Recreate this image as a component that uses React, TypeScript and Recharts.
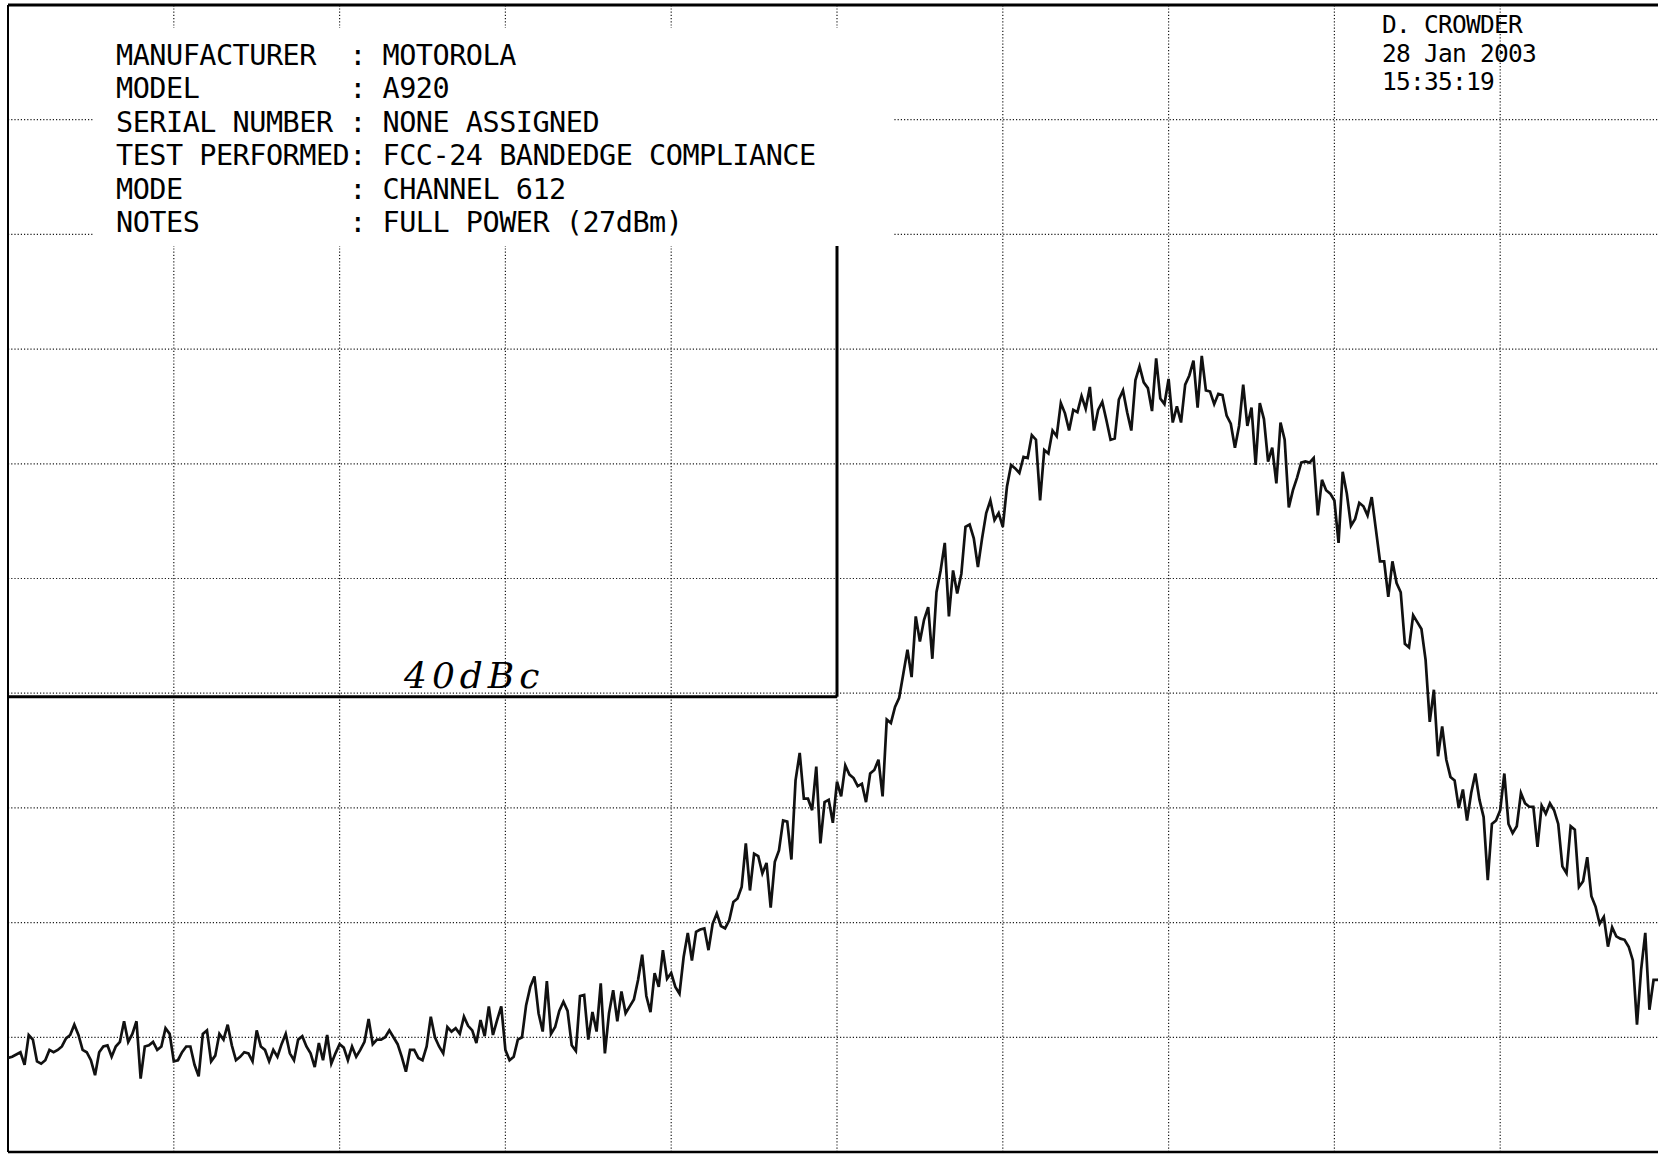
import React from 'react';
import { LineChart, Line, XAxis, YAxis, ReferenceLine } from 'recharts';

// Sweep settings: 10 MHz span, 1 MHz/div, band edge at centre.
const F_START = 1845;
const F_STOP = 1855;
const BAND_EDGE = 1850;
const REF_TOP = 0;
const REF_BOTTOM = -100;
const LIMIT_DB = -60.3;
const LIMIT_TOP_DB = -21;

const X_TICKS = [1845, 1846, 1847, 1848, 1849, 1850, 1851, 1852, 1853, 1854, 1855];
const Y_TICKS = [0, -10, -20, -30, -40, -50, -60, -70, -80, -90, -100];

// Trace levels (dB), 401 sweep points from F_START to F_STOP.
const TRACE_DB = [
  -91.8, -91.7, -91.5, -91.3, -92.4, -89.8, -90.2, -92.1, -92.3, -92.0, -91.1, -91.3, -91.1, -90.8, -90.1, -89.8, -88.9, -89.8, -91.1, -91.3,
  -92.0, -93.3, -91.3, -90.8, -90.7, -91.7, -90.8, -90.4, -88.6, -90.4, -89.7, -88.6, -93.6, -90.8, -90.7, -90.4, -91.1, -90.8, -89.2, -89.7,
  -92.1, -92.0, -91.3, -90.8, -90.8, -92.4, -93.4, -89.7, -89.4, -92.1, -91.6, -89.7, -90.2, -88.9, -90.7, -92.0, -91.7, -91.3, -91.4, -92.1,
  -89.4, -90.8, -91.1, -92.1, -91.1, -91.7, -90.6, -89.7, -91.4, -92.0, -90.2, -89.9, -90.8, -91.4, -92.6, -90.5, -92.0, -89.8, -92.3, -91.4,
  -90.6, -90.9, -92.0, -90.8, -91.7, -91.1, -90.4, -88.4, -90.6, -90.2, -90.2, -90.0, -89.4, -90.0, -90.6, -91.7, -93.0, -91.1, -91.1, -91.8,
  -92.0, -90.8, -88.2, -90.0, -90.8, -91.4, -89.1, -89.5, -89.2, -89.7, -88.2, -89.0, -89.4, -90.5, -88.5, -89.9, -87.3, -89.8, -88.5, -87.3,
  -91.1, -92.0, -91.7, -90.2, -90.0, -87.2, -85.6, -84.7, -87.9, -89.5, -85.1, -89.7, -89.1, -87.7, -86.9, -87.7, -90.7, -91.2, -86.4, -86.3,
  -90.2, -87.8, -89.5, -85.3, -91.4, -87.9, -85.9, -88.6, -86.0, -87.9, -87.3, -86.7, -85.0, -82.8, -86.4, -87.8, -84.4, -85.6, -82.4, -84.9,
  -84.4, -85.6, -86.2, -83.0, -80.9, -83.3, -80.8, -80.6, -80.5, -82.4, -80.1, -79.2, -80.3, -80.5, -79.8, -78.2, -77.9, -76.9, -73.1, -77.2,
  -74.0, -74.2, -75.7, -74.8, -78.7, -74.7, -73.7, -71.1, -71.2, -74.5, -67.6, -65.2, -69.2, -69.2, -70.2, -66.4, -73.1, -69.5, -69.3, -71.3,
  -67.7, -69.0, -66.3, -67.1, -67.4, -68.1, -67.9, -69.5, -67.0, -66.7, -65.8, -69.0, -62.3, -62.6, -61.2, -60.4, -58.3, -56.2, -58.6, -53.3,
  -55.5, -53.6, -52.5, -57.0, -51.2, -49.3, -46.9, -53.3, -49.3, -51.3, -49.6, -45.5, -45.3, -46.5, -49.0, -46.5, -44.3, -43.2, -44.9, -44.3,
  -45.5, -42.0, -40.1, -40.4, -40.8, -39.4, -39.5, -37.5, -37.9, -43.2, -38.8, -39.1, -37.1, -37.6, -34.7, -35.6, -37.1, -35.3, -35.5, -34.1,
  -35.2, -33.3, -37.1, -35.3, -34.6, -36.2, -37.9, -37.8, -34.4, -33.6, -35.5, -37.1, -32.7, -31.5, -32.9, -33.4, -35.4, -30.8, -34.3, -34.8,
  -32.6, -36.4, -35.0, -36.4, -33.1, -32.3, -31.0, -35.1, -30.6, -33.6, -33.7, -34.8, -33.9, -34.0, -35.8, -36.5, -38.6, -36.7, -33.1, -36.7,
  -35.1, -40.1, -34.7, -36.1, -39.8, -38.6, -41.7, -36.4, -37.9, -43.8, -42.3, -41.2, -39.9, -39.8, -39.9, -39.5, -44.5, -41.4, -42.3, -42.6,
  -43.2, -46.9, -40.7, -42.6, -45.4, -44.8, -43.4, -43.7, -44.5, -42.9, -45.7, -48.5, -48.5, -51.6, -48.5, -50.4, -51.2, -55.7, -56.0, -53.2,
  -53.8, -54.4, -57.1, -62.5, -59.7, -65.5, -62.9, -65.8, -67.3, -67.6, -70.0, -68.4, -71.1, -68.7, -67.0, -69.3, -70.8, -76.3, -71.4, -71.1,
  -70.2, -67.0, -71.4, -72.2, -71.6, -68.7, -69.6, -69.9, -69.9, -73.4, -69.8, -70.5, -69.6, -70.2, -71.4, -75.1, -75.7, -71.6, -71.9, -76.9,
  -76.4, -74.3, -77.7, -78.6, -80.1, -79.5, -82.1, -80.4, -81.2, -81.4, -81.5, -82.1, -83.3, -88.9, -84.1, -80.9, -87.6, -85.0, -85.0, -84.8, -85.2,
];

const HEADER_LABELS = ['MANUFACTURER', 'MODEL', 'SERIAL NUMBER', 'TEST PERFORMED', 'MODE', 'NOTES'];
const HEADER_VALUES = ['MOTOROLA', 'A920', 'NONE ASSIGNED', 'FCC-24 BANDEDGE COMPLIANCE', 'CHANNEL 612', 'FULL POWER (27dBm)'];
const STAMP_LINES = ['D. CROWDER', '28 Jan 2003', '15:35:19'];
const LIMIT_NOTE = '40dBc';

const data = TRACE_DB.map((db, i) => ({
  f: F_START + (i * (F_STOP - F_START)) / (TRACE_DB.length - 1),
  db,
}));

const MONO = '"DejaVu Sans Mono", "Liberation Mono", monospace';
const GRID = { stroke: '#1c1c1c', strokeWidth: 1.2, strokeDasharray: '1.2 2' };

function Annotations() {
  return (
    <svg
      width={1658}
      height={1154}
      style={{ position: 'absolute', left: 0, top: 0, pointerEvents: 'none' }}
    >
      {/* header block blanks the graticule behind it */}
      <rect x={93} y={28} width={800} height={218} fill="#fff" />
      {HEADER_LABELS.map((label, i) => (
        <text
          key={label}
          x={116}
          y={65 + i * 33.4}
          fontFamily={MONO}
          fontSize={28.5}
          letterSpacing={-0.5}
          fill="#000"
          xmlSpace="preserve"
          style={{ whiteSpace: 'pre' }}
        >
          {label.padEnd(14, ' ') + ': ' + HEADER_VALUES[i]}
        </text>
      ))}
      {STAMP_LINES.map((line, i) => (
        <text
          key={line}
          x={1382}
          y={33 + i * 28.6}
          fontFamily={MONO}
          fontSize={24.5}
          letterSpacing={-0.75}
          fill="#000"
          xmlSpace="preserve"
          style={{ whiteSpace: 'pre' }}
        >
          {line}
        </text>
      ))}
      <text
        x={404}
        y={688}
        fontFamily='"DejaVu Serif", "Liberation Serif", serif'
        fontStyle="italic"
        fontSize={36}
        letterSpacing={5}
        fill="#000"
      >
        {LIMIT_NOTE}
      </text>
    </svg>
  );
}

export default function App() {
  return (
    <div
      style={{
        position: 'absolute',
        left: 0,
        top: 0,
        width: 1658,
        height: 1154,
        overflow: 'hidden',
        background: '#fff',
      }}
    >
      <LineChart width={1674} height={1154} data={data} margin={{ top: 5, right: 8, bottom: 2, left: 8 }}>
        <XAxis
          dataKey="f"
          type="number"
          domain={[F_START, F_STOP]}
          ticks={X_TICKS}
          height={0}
          tick={false}
          tickLine={false}
          axisLine={false}
          allowDataOverflow
        />
        <YAxis
          type="number"
          domain={[REF_BOTTOM, REF_TOP]}
          ticks={Y_TICKS}
          width={0}
          tick={false}
          tickLine={false}
          axisLine={false}
          allowDataOverflow
        />
        {/* dotted graticule, one line per division */}
        {X_TICKS.map((t) => (
          <ReferenceLine key={`gx${t}`} x={t} {...GRID} />
        ))}
        {Y_TICKS.map((t) => (
          <ReferenceLine key={`gy${t}`} y={t} {...GRID} />
        ))}
        {/* solid frame */}
        <ReferenceLine y={REF_TOP} stroke="#000" strokeWidth={3} />
        <ReferenceLine y={REF_BOTTOM} stroke="#000" strokeWidth={2.5} />
        <ReferenceLine x={F_START} stroke="#000" strokeWidth={2} />
        {/* limit mask */}
        <ReferenceLine
          segment={[{ x: F_START, y: LIMIT_DB }, { x: BAND_EDGE, y: LIMIT_DB }]}
          stroke="#000"
          strokeWidth={3}
        />
        <ReferenceLine
          segment={[{ x: BAND_EDGE, y: LIMIT_DB }, { x: BAND_EDGE, y: LIMIT_TOP_DB }]}
          stroke="#000"
          strokeWidth={3}
        />
        <Line
          dataKey="db"
          type="linear"
          stroke="#111"
          strokeWidth={2.7}
          strokeLinejoin="miter"
          dot={false}
          isAnimationActive={false}
        />
      </LineChart>
      <Annotations />
    </div>
  );
}
